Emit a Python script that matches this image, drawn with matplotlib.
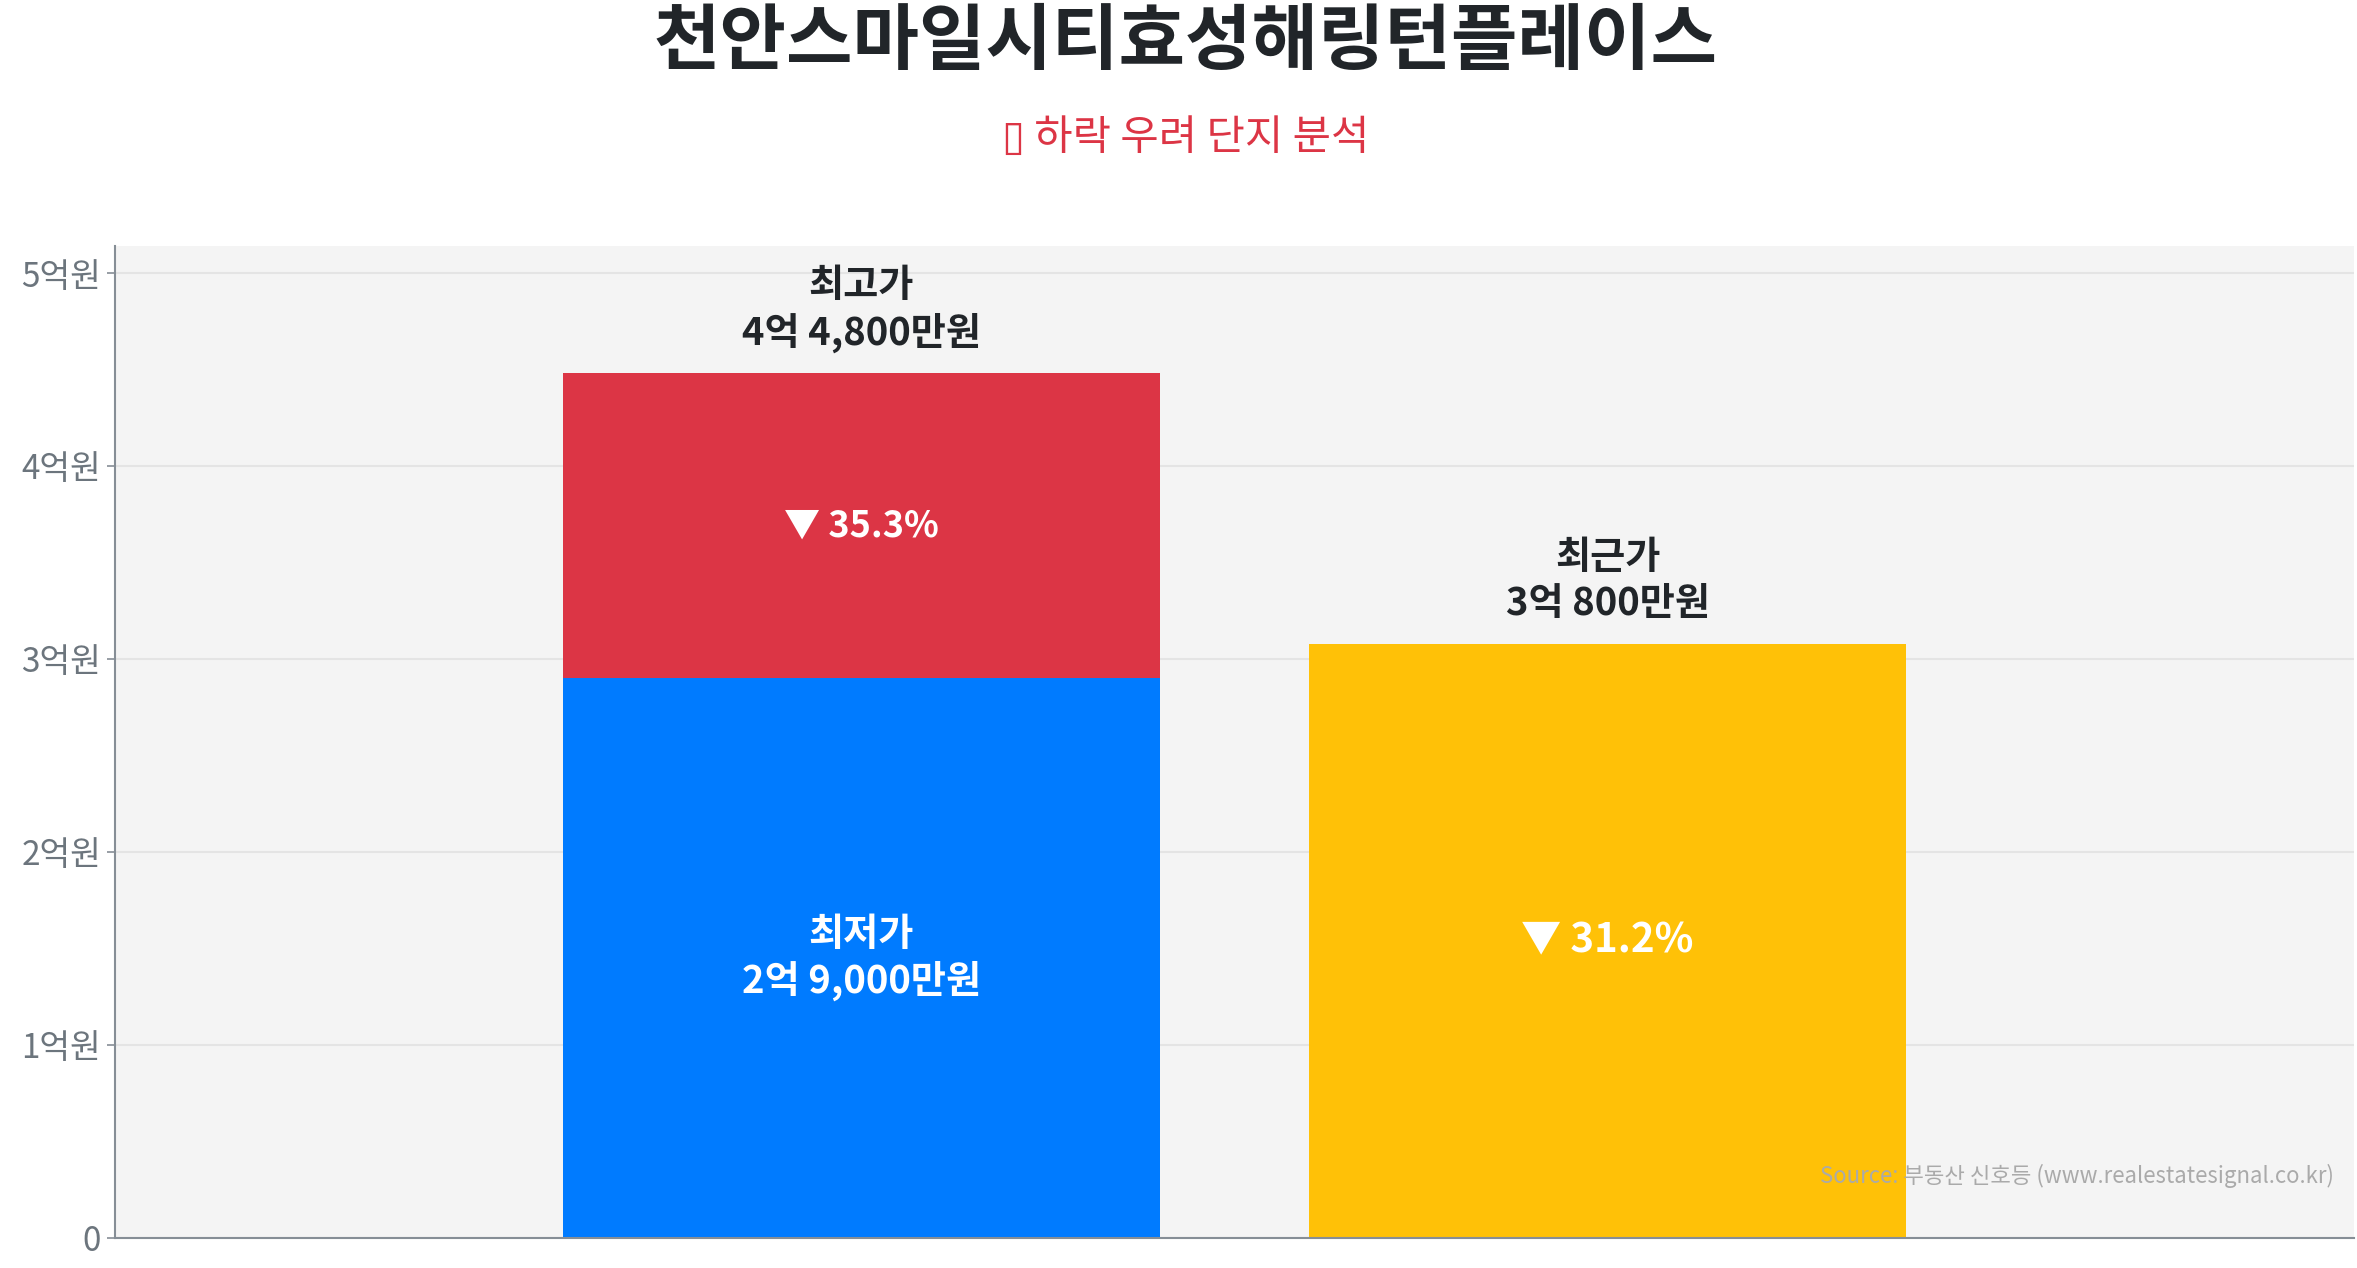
import matplotlib
matplotlib.use('Agg')
import matplotlib.pyplot as plt

plt.rcParams['font.family'] = ['Noto Sans CJK KR', 'DejaVu Sans']
plt.rcParams['axes.unicode_minus'] = False

# 데이터 (단위: 만원)
title = '천안스마일시티효성해링턴플레이스'
subtitle = '▯ 하락 우려 단지 분석'
max_price = 44800
min_price = 29000
recent_price = 30800
max_label = '최고가\n4억 4,800만원'
min_label = '최저가\n2억 9,000만원'
recent_label = '최근가\n3억 800만원'
drop_max_min = '▼ 35.3%'
drop_recent = '▼ 31.2%'
y_ticks = [0, 10000, 20000, 30000, 40000, 50000]
y_tick_labels = ['0', '1억원', '2억원', '3억원', '4억원', '5억원']
source = 'Source: 부동산 신호등 (www.realestatesignal.co.kr)'

red = '#dc3545'
blue = '#007bff'
yellow = '#ffc107'
dark = '#212529'
gray = '#6c757d'

fig = plt.figure(figsize=(23.57, 12.68), dpi=100)
ax = fig.add_axes([0.0488, 0.0237, 0.9499, 0.7823])
ax.set_facecolor('#f4f4f4')

# 막대
ax.bar(0, min_price, width=0.8, color=blue, zorder=2)
ax.bar(0, max_price - min_price, bottom=min_price, width=0.8, color=red, zorder=2)
ax.bar(1, recent_price, width=0.8, color=yellow, zorder=2)

ax.set_xlim(-1, 2)
ax.set_ylim(0, 51400)
ax.set_xticks([])
ax.set_yticks(y_ticks)
ax.set_yticklabels(y_tick_labels, fontsize=24, color=gray, fontweight='light')
ax.tick_params(axis='y', length=6, width=1.2, color='#868e96', pad=4)
ax.grid(axis='y', color='#e4e4e4', linewidth=1.5, zorder=1)
ax.set_axisbelow(True)
for s in ['top', 'right']:
    ax.spines[s].set_visible(False)
for s in ['left', 'bottom']:
    ax.spines[s].set_color('#868e96')
    ax.spines[s].set_linewidth(1.5)

# 라벨
ax.annotate(max_label, (0, max_price), xytext=(0, 15), textcoords='offset points',
            ha='center', va='bottom', fontsize=27.5, fontweight='bold', color=dark,
            linespacing=1.22)
ax.annotate(recent_label, (1, recent_price), xytext=(0, 15), textcoords='offset points',
            ha='center', va='bottom', fontsize=27.5, fontweight='bold', color=dark,
            linespacing=1.22)
ax.text(0, (max_price + min_price) / 2, drop_max_min, ha='center', va='center',
        fontsize=26, fontweight='bold', color='white')
ax.text(0, min_price / 2, min_label, ha='center', va='center', fontsize=27.5,
        fontweight='bold', color='white', linespacing=1.22)
ax.text(1, recent_price / 2, drop_recent, ha='center', va='center',
        fontsize=29, fontweight='bold', color='white')

ax.text(0.991, 0.063, source, transform=ax.transAxes, ha='right', va='center',
        fontsize=16, color='#aaaaaa')

fig.text(0.503, 0.966, title, ha='center', va='center', fontsize=52,
         fontweight='bold', color=dark)
fig.text(0.503, 0.891, subtitle, ha='center', va='center', fontsize=30, color=red)

fig.savefig('out.png', dpi=100)
